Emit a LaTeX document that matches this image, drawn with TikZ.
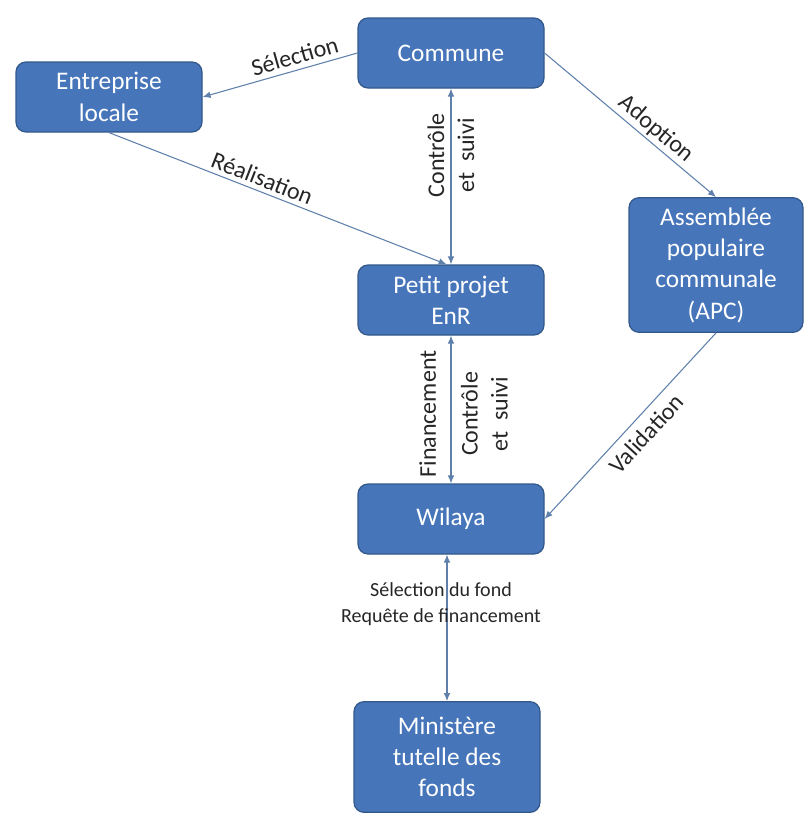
\documentclass[tikz,border=0pt]{standalone}
\usepackage{fontspec}
\setmainfont{Carlito}
\usetikzlibrary{arrows.meta,calc}
\definecolor{organfill}{RGB}{70,117,186}
\definecolor{organline}{RGB}{50,88,138}
\definecolor{linkcol}{RGB}{96,128,172}
\tikzset{
    organ/.style={draw=organline, line width=0.9pt, fill=organfill, rounded corners=7.5pt,
        text=white, align=center, minimum width=139.5pt, minimum height=52.5pt,
        font=\fontsize{19}{23.5}\selectfont},
    link/.style={draw=linkcol, line width=0.8pt, ->},
    role/.style={text=black!85, align=center, inner sep=2pt, font=\fontsize{18}{22.5}\selectfont},
    request/.style={role, font=\fontsize{15}{19.5}\selectfont}
}

\begin{document}
\begin{tikzpicture}[x=0.75pt,y=-0.75pt,>={Latex[length=6pt,width=5pt]}]
    \useasboundingbox (0,0) rectangle (805,815);
    % organs
    \node[organ] (com) at (451,53) {Commune};
    \node[organ] (ent) at (109,97) {Entreprise\\locale};
    \node[organ] (pet) at (451,300) {Petit projet\\EnR};
    \node[organ, minimum width=130.5pt, minimum height=101pt] (apc) at (716,265) {Assemblée\\populaire\\communale\\(APC)};
    \node[organ] (wil) at (451,519) {Wilaya};
    \node[organ, minimum height=83pt] (min) at (447,757) {Ministère\\tutelle des\\fonds};
    % links
    \draw[link, <-] (ent.east) -- node[role, sloped, above=2pt, pos=0.62] {Sélection} (com.west);
    \draw[link] (ent.south) -- node[role, sloped, above=1pt, pos=0.44] {Réalisation} (pet.97);
    \draw[link] (com.east) -- node[role, sloped, above, pos=0.6] {Adoption} (apc.north);
    \draw[link, <-] (wil.east) -- node[role, sloped, below=4pt, pos=0.52] {Validation} (apc.south);
    \draw[link, <->] (com.south) -- node[role, rotate=90, pos=0.38] {Contrôle\\et~ suivi} (pet.north);
    \draw[link, <->] (pet.south) -- (wil.north);
    \draw[link, <->] (wil.south -| min.north) -- node[request, pos=0.34, xshift=-4.5pt] {Sélection du fond\\Requête de financement} (min.north);
    % labels beside the middle link
    \coordinate (mid) at ($(pet.south)!0.53!(wil.north)$);
    \node[role, rotate=90] (fin) at ([xshift=-17.5pt]mid) {Financement};
    \node[role, rotate=90] (ctl) at ([xshift=25pt]mid) {Contrôle\\et~ suivi};
\end{tikzpicture}
\end{document}
